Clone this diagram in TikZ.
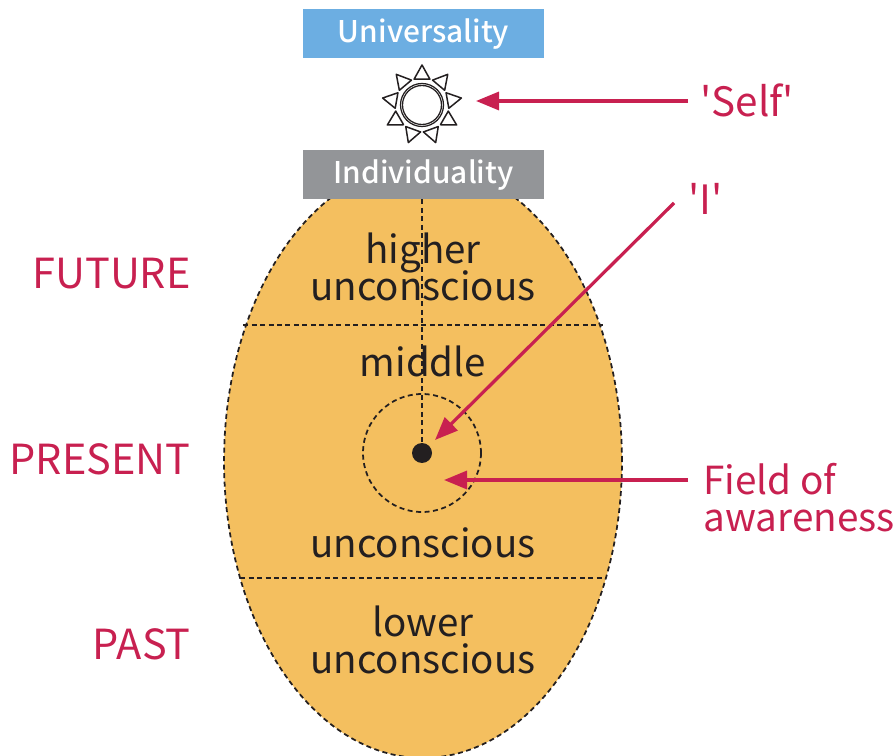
\documentclass[tikz,border=0pt]{standalone}
\usepackage{xcolor}
\usepackage{fontspec}
\setmainfont{Noto Sans CJK JP}
\newfontfamily\hdrfont{Noto Sans CJK JP Medium}
\usetikzlibrary{shapes.geometric, arrows.meta, positioning, calc}
\lineskiplimit=-10pt
\normallineskiplimit=-10pt
\definecolor{myred}{RGB}{200,32,80}
\definecolor{mydark}{RGB}{35,31,32}
\definecolor{myegg}{RGB}{244,191,95}
\definecolor{myblue}{RGB}{108,174,226}
\definecolor{mygrey}{RGB}{147,149,152}
\tikzset{
  hdrbox/.style={rectangle, minimum width=4.82cm, minimum height=0.98cm, inner sep=0pt,
    text=white, text depth=0.12cm, font=\hdrfont\fontsize{17}{18}\selectfont},
  eggtext/.style={align=center, text=mydark, inner sep=0pt,
    font=\fontsize{21.9}{21}\selectfont},
  timetext/.style={anchor=east, text=myred, inner sep=0pt,
    font=\fontsize{23.6}{24}\selectfont},
  redtext/.style={anchor=west, align=left, text=myred, inner sep=0pt,
    font=\fontsize{23}{21}\selectfont},
  arrow/.style={-{Triangle[length=0.46cm, width=0.36cm]}, line width=0.065cm, color=myred},
  dashline/.style={dashed, dash pattern=on 0.1cm off 0.07cm, line width=0.035cm, color=mydark},
  ray/.style={draw=mydark, line width=0.03cm, line join=round}
}
\begin{document}
\begin{tikzpicture}[x=0.02cm, y=-0.02cm]
  \useasboundingbox (0,0) rectangle (895,756);
  % Egg
  \node[ellipse, draw=mydark, fill=myegg, dashed, dash pattern=on 0.1cm off 0.07cm, line width=0.035cm,
    minimum width=7.96cm, minimum height=11.88cm, inner sep=0pt] (egg) at (423,461) {};
  \coordinate (futureL) at (243,325);
  \coordinate (futureR) at (603,325);
  \coordinate (pastL) at (240,578);
  \coordinate (pastR) at (606,578);
  \draw[dashline] (futureL) -- (futureR);
  \draw[dashline] (pastL) -- (pastR);
  % Boxes
  \node[hdrbox, fill=myblue] (univ) at (423.5,33.5) {Universality};
  \node[hdrbox, fill=mygrey] (indiv) at (423.5,174.5) {Individuality};
  % Sun
  \node[circle, draw=mydark, line width=0.025cm, minimum size=0.86cm, inner sep=0pt] (sun) at (422,105) {};
  \node[circle, draw=mydark, line width=0.025cm, minimum size=0.78cm, inner sep=0pt] (core) at (sun) {};
  \foreach \a in {-90,-50,...,230}
    \draw[ray] ($(sun)+(\a:40)$) -- ($(sun)+(\a+17:27)$) -- ($(sun)+(\a-17:27)$) -- cycle;
  % Centre
  \node[circle, fill=mydark, minimum size=0.4cm, inner sep=0pt] (dot) at (422,453) {};
  \node[circle, draw=mydark, dashed, dash pattern=on 0.1cm off 0.07cm, line width=0.035cm,
    minimum size=2.36cm, inner sep=0pt] (field) at (dot) {};
  \draw[dashline] (indiv.south -| dot) -- (dot);
  % Labels
  \node[eggtext] (higher) at (423,267) {higher\\unconscious};
  \node[eggtext] (middle) at (423,361) {middle};
  \node[eggtext] (uncon) at (423,543) {unconscious};
  \node[eggtext] (lower) at (423,640) {lower\\unconscious};
  \node[timetext] (future) at (191,274) {FUTURE};
  \node[timetext] (present) at (191,459) {PRESENT};
  \node[timetext] (past) at (191,644) {PAST};
  \node[redtext] (self) at (700,100) {\textquotesingle Self\textquotesingle};
  \node[redtext] (ilabel) at (688,199) {\textquotesingle I\textquotesingle};
  \node[redtext, font=\fontsize{22}{21}\selectfont] (aware) at (703,498) {Field of\\awareness};
  % Arrows
  \coordinate (selfend) at (476,101);
  \coordinate (iend) at (435,440);
  \coordinate (awareend) at (444,480);
  \coordinate (selfstart) at (688,101);
  \coordinate (istart) at (674,203);
  \coordinate (awarestart) at (688,480);
  \draw[arrow] (selfstart) -- (selfend);
  \draw[arrow] (istart) -- (iend);
  \draw[arrow] (awarestart) -- (awareend);
\end{tikzpicture}
\end{document}
